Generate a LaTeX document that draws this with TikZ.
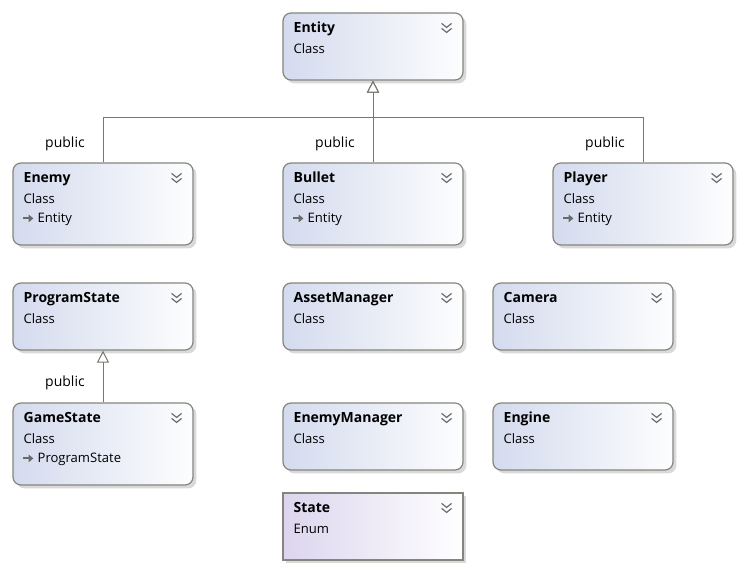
\documentclass[tikz,border=0pt]{standalone}
\usepackage{fontspec}
\setmainfont{Open Sans}
\usetikzlibrary{calc,shadows,arrows.meta}
\definecolor{boxline}{HTML}{85857D}
\definecolor{boxleft}{HTML}{D4DBEE}
\definecolor{enumleft}{HTML}{DCD5EE}
\definecolor{wire}{HTML}{77776F}
\definecolor{chevgray}{HTML}{6A6A6A}
\tikzset{
  classbox/.style={draw=boxline, line width=0.9pt, rounded corners=6pt,
    left color=boxleft, right color=white!96!boxleft,
    minimum width=135pt, minimum height=50.25pt,
    drop shadow={shadow xshift=2.5pt, shadow yshift=-2.5pt, fill=black, opacity=0.15}},
  tallbox/.style={classbox, minimum height=61.5pt},
  enumbox/.style={classbox, sharp corners, left color=enumleft, right color=white},
  titletext/.style={anchor=base west, inner sep=0pt, font=\fontsize{10.5}{12}\selectfont\bfseries},
  kindtext/.style={anchor=base west, inner sep=0pt, font=\fontsize{9.8}{11}\selectfont},
  vislabel/.style={anchor=base east, inner sep=0pt, font=\fontsize{10.5}{12}\selectfont},
  chevron/.style={draw=chevgray, line width=0.9pt},
  baseptr/.style={-{Triangle[length=3.5pt,width=5.5pt]}, line width=1.5pt, draw=chevgray},
  inherit/.style={draw=wire, line width=0.75pt, -{Triangle[open, fill=white, length=9pt, width=9pt]}},
}
\begin{document}
\begin{tikzpicture}[x=0.75pt,y=0.75pt,yscale=-1,xscale=1]
    \useasboundingbox (0,0) rectangle (744,571);

    % plain classes
    \foreach \nm/\cx/\cy/\ttl in {entity/373/46.5/Entity, progstate/103/316.5/ProgramState,
        assetmgr/373/316.5/AssetManager, camera/583/316.5/Camera,
        enemymgr/373/436.5/EnemyManager, engine/583/436.5/Engine} {
      \node[classbox] (\nm) at (\cx,\cy) {};
      \node[titletext] at ($(\nm.north west)+(11,20)$) {\ttl};
      \node[kindtext] at ($(\nm.north west)+(11,41)$) {Class};
      \draw[chevron] ($(\nm.north east)+(-22,11)$) -- ++(5,4) -- ++(5,-4);
      \draw[chevron] ($(\nm.north east)+(-22,16)$) -- ++(5,4) -- ++(5,-4);
    }

    % derived classes
    \foreach \nm/\cx/\cy/\ttl/\base in {enemy/103/204/Enemy/Entity, bullet/373/204/Bullet/Entity,
        player/643/204/Player/Entity, gamestate/103/444/GameState/ProgramState} {
      \node[tallbox] (\nm) at (\cx,\cy) {};
      \node[titletext] at ($(\nm.north west)+(11,20)$) {\ttl};
      \node[kindtext] at ($(\nm.north west)+(11,41)$) {Class};
      \draw[baseptr] ($(\nm.north west)+(11,56)$) -- ++(10,0);
      \node[kindtext] at ($(\nm.north west)+(25,60)$) {\base};
      \draw[chevron] ($(\nm.north east)+(-22,11)$) -- ++(5,4) -- ++(5,-4);
      \draw[chevron] ($(\nm.north east)+(-22,16)$) -- ++(5,4) -- ++(5,-4);
    }

    % enum
    \node[enumbox] (state) at (373,526.5) {};
    \node[titletext] at ($(state.north west)+(11,20)$) {State};
    \node[kindtext] at ($(state.north west)+(11,41)$) {Enum};
    \draw[chevron] ($(state.north east)+(-22,11)$) -- ++(5,4) -- ++(5,-4);
    \draw[chevron] ($(state.north east)+(-22,16)$) -- ++(5,4) -- ++(5,-4);

    % inheritance
    \coordinate (bus) at (373,117);
    \draw[inherit] (enemy.north) |- (bus) -- (entity.south);
    \draw[inherit] (bullet.north) -- (entity.south);
    \draw[inherit] (player.north) |- (bus) -- (entity.south);
    \draw[inherit] (gamestate.north) -- (progstate.south);

    \node[vislabel] at ($(enemy.north)+(-18,-15)$) {public};
    \node[vislabel] at ($(bullet.north)+(-18,-15)$) {public};
    \node[vislabel] at ($(player.north)+(-18,-15)$) {public};
    \node[vislabel] at ($(gamestate.north)+(-18,-16)$) {public};

\end{tikzpicture}
\end{document}
